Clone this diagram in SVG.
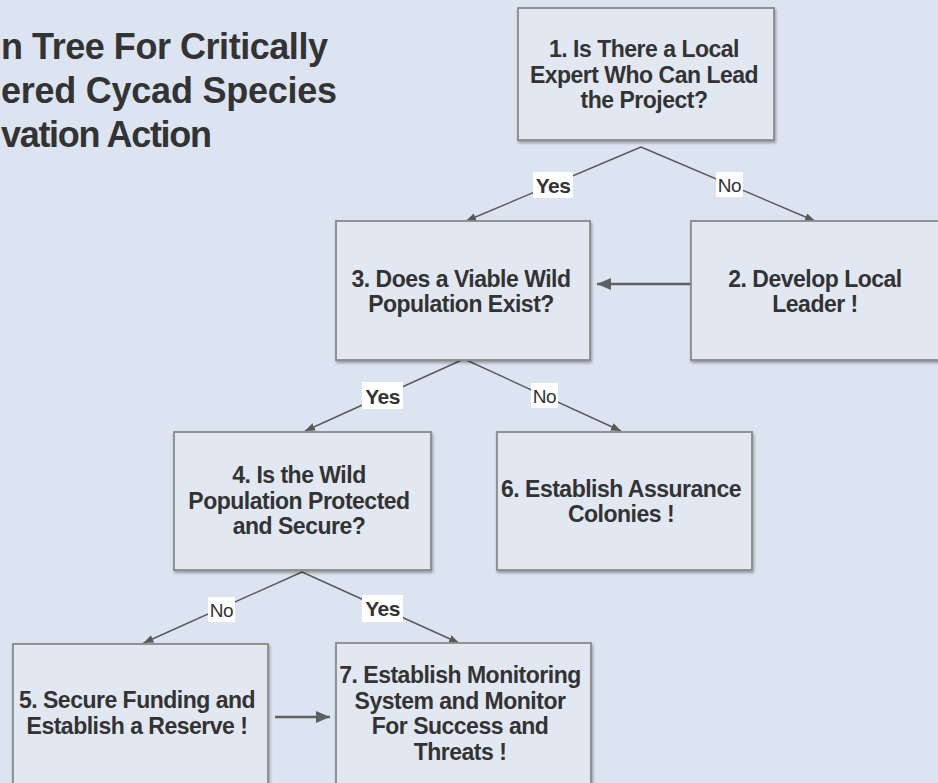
<svg xmlns="http://www.w3.org/2000/svg" width="938" height="783" viewBox="0 0 938 783">
  <style>
    .box { fill: #e1e8f2; stroke: #8a8a8a; stroke-width: 1.8; filter: url(#shadow); }
    .t { font-family: "Liberation Sans", Arial, sans-serif; font-weight: bold; font-size: 23px; letter-spacing: -0.5px; fill: #333333; text-anchor: middle; }
    .title { font-family: "Liberation Sans", Arial, sans-serif; font-weight: bold; font-size: 36px; fill: #333333; }
    .edge { fill: none; stroke: #595959; stroke-width: 1.4; marker-end: url(#arrowSmall); }
    .edgeBig { fill: none; stroke: #5f5f5f; stroke-width: 2.6; marker-end: url(#arrowBig); }
    .lblbg { fill: #ffffff; }
    .yes { font-family: "Liberation Sans", Arial, sans-serif; font-weight: bold; font-size: 21px; letter-spacing: -0.5px; fill: #333333; text-anchor: middle; }
    .no { font-family: "Liberation Sans", Arial, sans-serif; font-size: 19px; letter-spacing: -0.5px; fill: #333333; text-anchor: middle; }
  </style>
  <defs>
    <filter id="shadow" x="-10%" y="-10%" width="130%" height="130%">
      <feDropShadow dx="1" dy="2" stdDeviation="1.5" flood-color="#000000" flood-opacity="0.35"/>
    </filter>
    <marker id="arrowSmall" markerUnits="userSpaceOnUse" markerWidth="10" markerHeight="8" refX="10" refY="4" orient="auto">
      <path d="M0,0 L10,4 L0,8 z" fill="#595959"/>
    </marker>
    <marker id="arrowBig" markerUnits="userSpaceOnUse" markerWidth="14" markerHeight="12" refX="14" refY="6" orient="auto">
      <path d="M0,0 L14,6 L0,12 z" fill="#5f5f5f"/>
    </marker>
  </defs>

  <rect x="0" y="0" width="938" height="783" fill="#dbe4f0"/>

  <g id="title">
    <text class="title" x="1" y="59" textLength="327">n Tree For Critically</text>
    <text class="title" x="1" y="103" textLength="336">ered Cycad Species</text>
    <text class="title" x="1" y="147" textLength="211">vation Action</text>
  </g>

  <g id="connectors">
    <path class="edge" d="M641,147 L466,221"/>
    <path class="edge" d="M641,147 L815,221"/>
    <path class="edge" d="M464,359 L305,431"/>
    <path class="edge" d="M464,359 L621,431"/>
    <path class="edge" d="M302,572 L143.5,643"/>
    <path class="edge" d="M302,572 L459,643"/>
    <path class="edgeBig" d="M695,284 L597,284"/>
    <path class="edgeBig" d="M275,717 L330,717"/>

    <g id="label-yes-1">
      <rect class="lblbg" x="533" y="172" width="40" height="26"/>
      <text class="yes" x="553" y="192.5">Yes</text>
    </g>
    <g id="label-no-1">
      <rect class="lblbg" x="716" y="172" width="27" height="25"/>
      <text class="no" x="729.5" y="191.5">No</text>
    </g>
    <g id="label-yes-2">
      <rect class="lblbg" x="362" y="382" width="41" height="27"/>
      <text class="yes" x="382.5" y="403.5">Yes</text>
    </g>
    <g id="label-no-2">
      <rect class="lblbg" x="531" y="383" width="27" height="25"/>
      <text class="no" x="544.5" y="402.5">No</text>
    </g>
    <g id="label-no-3">
      <rect class="lblbg" x="208" y="597" width="27" height="25"/>
      <text class="no" x="221.5" y="616.5">No</text>
    </g>
    <g id="label-yes-3">
      <rect class="lblbg" x="362" y="595" width="41" height="27"/>
      <text class="yes" x="382.5" y="615.5">Yes</text>
    </g>
  </g>

  <g id="node1">
    <rect class="box" x="518" y="8" width="256" height="132"/>
    <text class="t" x="644" y="57">1. Is There a Local</text>
    <text class="t" x="644" y="82.5">Expert Who Can Lead</text>
    <text class="t" x="644" y="108">the Project?</text>
  </g>

  <g id="node3">
    <rect class="box" x="336" y="221" width="254" height="139"/>
    <text class="t" x="461" y="286.5">3. Does a Viable Wild</text>
    <text class="t" x="461" y="312">Population Exist?</text>
  </g>

  <g id="node2">
    <rect class="box" x="691" y="221" width="256" height="139"/>
    <text class="t" x="815" y="286.5">2. Develop Local</text>
    <text class="t" x="815" y="312">Leader !</text>
  </g>

  <g id="node4">
    <rect class="box" x="174" y="432" width="257" height="138"/>
    <text class="t" x="299" y="483">4. Is the Wild</text>
    <text class="t" x="299" y="508.5">Population Protected</text>
    <text class="t" x="299" y="534">and Secure?</text>
  </g>

  <g id="node6">
    <rect class="box" x="497" y="432" width="255" height="138"/>
    <text class="t" x="621" y="496.5">6. Establish Assurance</text>
    <text class="t" x="621" y="522">Colonies !</text>
  </g>

  <g id="node5">
    <rect class="box" x="13" y="644" width="255" height="142"/>
    <text class="t" x="137" y="708">5. Secure Funding and</text>
    <text class="t" x="137" y="733.5">Establish a Reserve !</text>
  </g>

  <g id="node7">
    <rect class="box" x="336" y="643" width="255" height="143"/>
    <text class="t" x="460" y="683">7. Establish Monitoring</text>
    <text class="t" x="460" y="708.5">System and Monitor</text>
    <text class="t" x="460" y="734">For Success and</text>
    <text class="t" x="460" y="759.5">Threats !</text>
  </g>
</svg>
